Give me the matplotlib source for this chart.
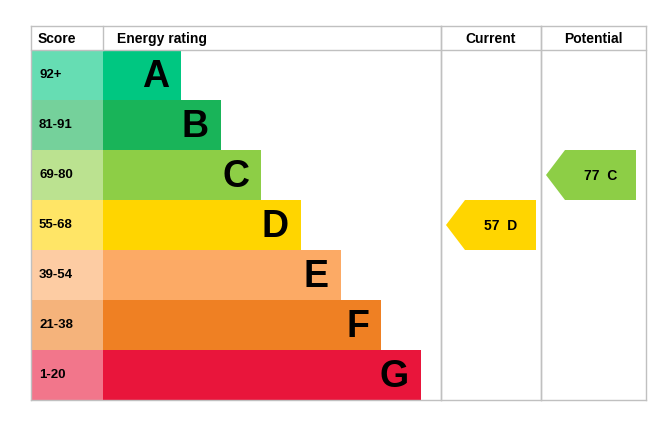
import matplotlib
matplotlib.use("Agg")
import matplotlib.pyplot as plt
from matplotlib.patches import Rectangle, Polygon

bands = ["A", "B", "C", "D", "E", "F", "G"]
scores = ["92+", "81-91", "69-80", "55-68", "39-54", "21-38", "1-20"]
lows = [92, 81, 69, 55, 39, 21, 1]
bar_colors = ["#00c781", "#19b459", "#8dce46", "#ffd500", "#fcaa65", "#ef8023", "#e9153b"]
score_colors = ["#66ddb3", "#75d19b", "#bbe290", "#ffe566", "#fdcca3", "#f5b37b", "#f2768b"]
current = 57
potential = 77

W, H = 671, 425
fig = plt.figure(figsize=(W/100, H/100), dpi=100)
ax = fig.add_axes([0, 0, 1, 1])
ax.set_xlim(0, W); ax.set_ylim(H, 0); ax.axis("off")
fn = "Liberation Sans"
L, R, T, B = 31, 646, 26, 400
hdr = 50; rh = 50; sc = 103; c1 = 441; c2 = 541

def band_of(v):
    for i, lo in enumerate(lows):
        if v >= lo:
            return i
    return len(lows) - 1

for i, (b, s) in enumerate(zip(bands, scores)):
    y = hdr + i*rh
    ax.add_patch(Rectangle((L, y), sc-L, rh, color=score_colors[i], lw=0))
    x1 = sc + 78 + 40*i
    ax.add_patch(Rectangle((sc, y), x1-sc, rh, color=bar_colors[i], lw=0))
    ax.text(L+8, y+rh/2, s, fontsize=9.5, fontweight="bold", family=fn, va="center", ha="left")
    ax.text(x1-12, y+rh/2+2, b, fontsize=27, fontweight="bold", family=fn, va="center", ha="right")

gc = "#c0c0c0"
for x in [L, sc, c1, c2, R]:
    ax.plot([x, x], [T, B] if x not in (sc,) else [T, hdr], color=gc, lw=1)
for y in [T, hdr, B]:
    ax.plot([L, R], [y, y], color=gc, lw=1)
ax.plot([c1, c1], [T, B], color=gc, lw=1)
ax.plot([c2, c2], [T, B], color=gc, lw=1)

ax.text(L+7, (T+hdr)/2+1, "Score", fontsize=10, fontweight="bold", family=fn, va="center")
ax.text(sc+14, (T+hdr)/2+1, "Energy rating", fontsize=10, fontweight="bold", family=fn, va="center")
ax.text((c1+c2)/2, (T+hdr)/2+1, "Current", fontsize=10, fontweight="bold", family=fn, va="center", ha="center")
ax.text((c2+R)/2, (T+hdr)/2+1, "Potential", fontsize=10, fontweight="bold", family=fn, va="center", ha="center")

def arrow(v, x0, x1):
    i = band_of(v)
    y0 = hdr + i*rh; y1 = y0 + rh
    tip = 19
    ax.add_patch(Polygon([(x0, (y0+y1)/2), (x0+tip, y0), (x1, y0), (x1, y1), (x0+tip, y1)],
                         color=bar_colors[i], lw=0))
    ax.text((x0+tip+x1)/2, (y0+y1)/2+1, f"{v}  {bands[i]}", fontsize=10, fontweight="bold",
            family=fn, va="center", ha="center")

arrow(current, 446, 536)
arrow(potential, 546, 636)
fig.savefig("out.png", dpi=100)
